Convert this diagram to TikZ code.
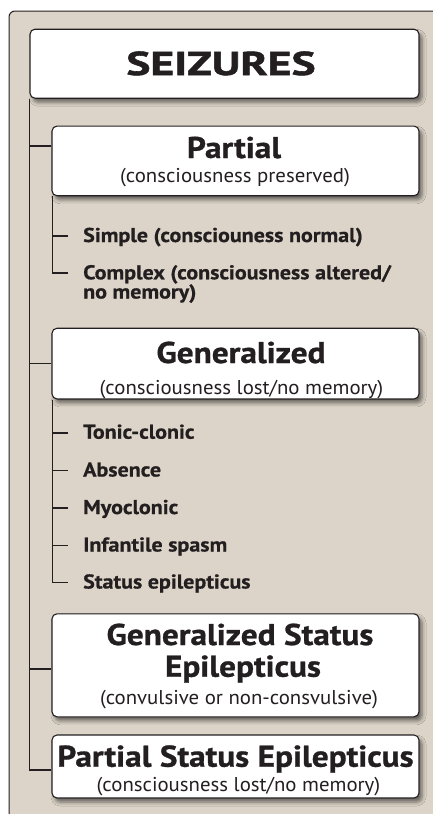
\documentclass[tikz,border=0pt]{standalone}
\usepackage{fontspec}
\setmainfont{PT Sans}
\newfontfamily\fseiz[FakeStretch=1.38,FakeBold=1.6]{PT Sans}
\newfontfamily\fttl[FakeStretch=1.11,FakeBold=0.9]{PT Sans}
\newfontfamily\fsub[FakeStretch=1.04]{PT Sans}
\newfontfamily\fitem[FakeStretch=1.1,FakeBold=0.6]{PT Sans}
\usetikzlibrary{shadows.blur}
\definecolor{panel}{HTML}{DCD4C8}
\definecolor{ink}{HTML}{231F20}
\begin{document}
\begin{tikzpicture}[x=1pt,y=-1pt,
 box/.style={draw=ink, line width=1.1pt, fill=white, rounded corners=5pt, minimum width=367pt, inner sep=0pt,
   blur shadow={shadow xshift=3pt, shadow yshift=-4pt, shadow blur radius=4pt, shadow opacity=55}},
 conn/.style={draw=ink, line width=1.7pt},
 big/.style={font=\fseiz\bfseries\fontsize{33}{33}\selectfont, text=ink, inner sep=0pt, anchor=base},
 ttl/.style={font=\fttl\bfseries\fontsize{30}{30}\selectfont, text=ink, inner sep=0pt, anchor=base},
 sub/.style={font=\fsub\fontsize{20}{20}\selectfont, text=ink, inner sep=0pt, anchor=base},
 item/.style={font=\fitem\bfseries\fontsize{20}{20}\selectfont, text=ink, inner sep=0pt, anchor=west, text height=12pt, text depth=0pt},
 itemb/.style={font=\fitem\bfseries\fontsize{20}{20}\selectfont, text=ink, inner sep=0pt, anchor=base west},
]
\useasboundingbox (0,0) rectangle (433,814);
\fill[white] (0,0) rectangle (433,814);
\fill[panel, rounded corners=6pt] (9,11) rectangle (445,830);
\draw[ink, line width=1pt, rounded corners=6pt] (9,830) -- (9,11) -- (445,11);

% boxes
\node[box, minimum width=389pt, minimum height=69pt] (seiz) at (224.5,63.7) {};
\node[big] (seizT) at (221,75) {SEIZURES};

\node[box, minimum height=69.7pt] (partial) at (235.5,160.9) {};
\node[ttl] (partialT) at (234,158) {Partial};
\node[sub] (partialS) at (235,182) {(consciousness preserved)};

\node[box, minimum height=70.7pt] (gen) at (235.5,363.6) {};
\node[ttl] (genT) at (241,363) {Generalized};
\node[sub] (genS) at (241.5,394.5) {(consciousness lost/no memory)};

\node[box, minimum height=103pt] (gse) at (235.5,665.3) {};
\node[ttl] (gseT1) at (240,645) {Generalized Status};
\node[ttl] (gseT2) at (243,676.7) {Epilepticus};
\node[sub] (gseS) at (239,704.3) {(convulsive or non-consvulsive)};

\node[box, minimum height=63pt] (pse) at (235.5,766.5) {};
\node[ttl] (pseT) at (235.5,766.7) {Partial Status Epilepticus};
\node[sub] (pseS) at (238.5,791.5) {(consciousness lost/no memory)};

% items
\node[item] (simple) at (83,236) {Simple (consciouness normal)};
\node[item] (complex) at (83,273.3) {Complex (consciousness altered/};
\node[itemb] (complex2) at (83,298.5) {no memory)};

\node[item] (tonic) at (83,432.7) {Tonic-clonic};
\node[item] (absence) at (83,470.5) {Absence};
\node[item] (myo) at (83,508) {Myoclonic};
\node[item] (inf) at (83,545.5) {Infantile spasm};
\node[item] (status) at (83,582.5) {Status epilepticus};

% connectors
\coordinate (pJ) at ([yshift=15pt]partial.west);
\coordinate (gseJ) at ([yshift=-4pt]gse.west);
\coordinate (pseJ) at ([yshift=-3.5pt]pse.west);
\draw[conn] (seiz.south west) |- (pseJ);
\draw[conn] (pJ) -- (pJ -| seiz.south west);
\draw[conn] (gen.west) -- (gen.west -| seiz.south west);
\draw[conn] (gseJ) -- (gseJ -| seiz.south west);

\draw[conn] ([xshift=1pt]partial.south west) |- ([xshift=-15pt]complex.west);
\draw[conn] ([xshift=-15pt]simple.west) -- ++(-15,0);

\draw[conn] ([xshift=1pt]gen.south west) |- ([xshift=-15pt]status.west);
\foreach \n in {tonic,absence,myo,inf}
  \draw[conn] ([xshift=-15pt]\n.west) -- ++(-15,0);
\end{tikzpicture}
\end{document}
